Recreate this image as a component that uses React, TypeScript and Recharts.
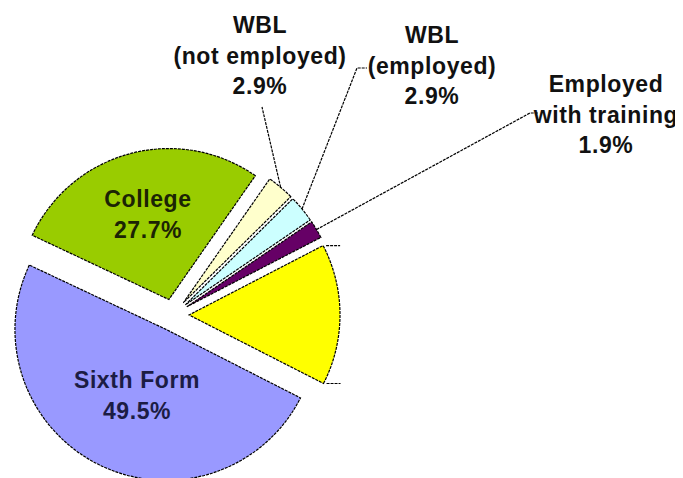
import { Pie, PieChart, Sector } from 'recharts'

const categories = ['Other', 'Employed with training', 'WBL (employed)', 'WBL (not employed)', 'College', 'Sixth Form']
const shares = [15.1, 1.9, 2.9, 2.9, 27.7, 49.5]
const labelLines = [[], ['Employed', 'with training'], ['WBL', '(employed)'], ['WBL', '(not employed)'], ['College'], ['Sixth Form']]

const COLORS = ['#FFFF00', '#660066', '#CCFFFF', '#FFFFCC', '#99CC00', '#9999FF']
const TEXT_COLORS = ['#111', '#111', '#111', '#111', '#1b2404', '#1c1c44']

const data = categories.map((name, i) => ({ name, value: shares[i] }))

const RADIAN = Math.PI / 180
const EXPLODE = 16
const FONT = '"Liberation Sans", Arial, sans-serif'
const LINE_H = 30.5

// text block centre + first baseline, and where the leader line ends
const labelPlace: ({ x: number; y: number; tx?: number; ty?: number; stub?: number } | null)[] = [
  null,
  { x: 598, y: 84, tx: 522, ty: 105, stub: 8 },
  { x: 424, y: 35, tx: 349, ty: 60, stub: 10 },
  { x: 252, y: 25, tx: 254, ty: 99 },
  { x: 140, y: 199 },
  { x: 129, y: 380 },
]

const stroke = { stroke: '#000', strokeWidth: 1.2, strokeDasharray: '3 1' }

function polar(cx: number, cy: number, r: number, angle: number) {
  return { x: cx + r * Math.cos(-angle * RADIAN), y: cy + r * Math.sin(-angle * RADIAN) }
}

function renderSlice(props: any) {
  const { cx, cy, startAngle, endAngle, outerRadius, index } = props
  const mid = (startAngle + endAngle) / 2
  const o = polar(cx, cy, EXPLODE, mid)
  const edge = polar(o.x, o.y, outerRadius, mid)
  const place = labelPlace[index]
  const lines = [...labelLines[index], `${shares[index].toFixed(1)}%`]

  return (
    <g key={`slice-${index}`}>
      <Sector
        cx={o.x}
        cy={o.y}
        innerRadius={0}
        outerRadius={outerRadius}
        startAngle={startAngle}
        endAngle={endAngle}
        fill={COLORS[index]}
        {...stroke}
      />
      {index === 0 &&
        [startAngle, endAngle].map((a) => {
          const c = polar(o.x, o.y, outerRadius, a)
          return <line key={a} x1={c.x + 3} y1={c.y} x2={c.x + 17} y2={c.y} {...stroke} />
        })}
      {place && place.tx != null && (
        <polyline
          points={`${edge.x},${edge.y} ${place.tx},${place.ty} ${place.tx + (place.stub ?? 0)},${place.ty}`}
          fill="none"
          {...stroke}
        />
      )}
      {place && (
        <text
          x={place.x}
          y={place.y}
          textAnchor="middle"
          fontFamily={FONT}
          fontWeight="bold"
          fontSize={23}
          letterSpacing={0.6}
          fill={TEXT_COLORS[index]}
        >
          {lines.map((t, i) => (
            <tspan key={i} x={place.x} y={place.y + i * LINE_H}>
              {t}
            </tspan>
          ))}
        </text>
      )}
    </g>
  )
}

export default function App() {
  return (
    <div style={{ width: 675, height: 470, background: '#fff' }}>
      <PieChart width={675} height={470} margin={{ top: 0, right: 0, bottom: 0, left: 0 }}>
        <Pie
          data={data}
          dataKey="value"
          nameKey="name"
          cx={165}
          cy={307}
          innerRadius={0}
          outerRadius={151}
          startAngle={-27}
          endAngle={333}
          fill="none"
          stroke="none"
          label={renderSlice}
          labelLine={false}
          isAnimationActive={false}
        />
      </PieChart>
    </div>
  )
}
